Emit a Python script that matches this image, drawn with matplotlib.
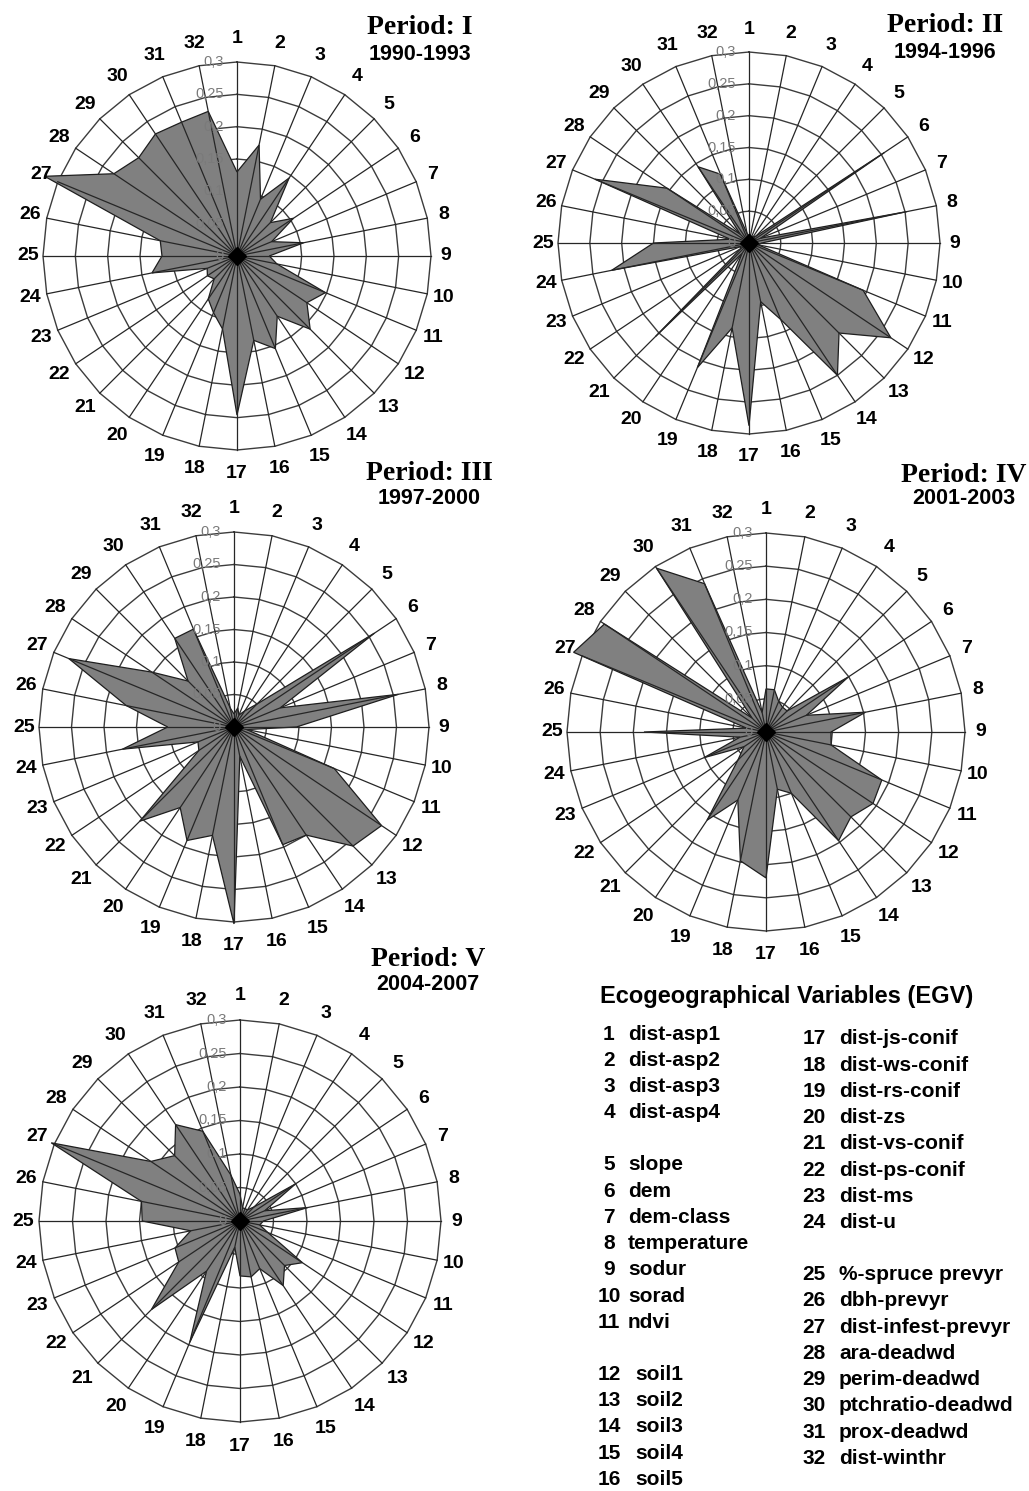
import numpy as np
import matplotlib.pyplot as plt

W, H = 1029, 1491

ring_levels = [0, 0.05, 0.1, 0.15, 0.2, 0.25, 0.3]
ring_labels = ["0", "0,05", "0,1", "0,15", "0,2", "0,25", "0,3"]

periods = ["Period: I", "Period: II", "Period: III", "Period: IV", "Period: V"]
years = ["1990-1993", "1994-1996", "1997-2000", "2001-2003", "2004-2007"]

# ENFA marginality scores for EGV 1..32 in each period
period_1 = [0.13, 0.175, 0.095, 0.145, 0.073, 0.105, 0.058, 0.105,
            0.05, 0.063, 0.148, 0.13, 0.16, 0.112, 0.155, 0.133,
            0.246, 0.115, 0.095, 0.08, 0.05, 0.055, 0.05, 0.134,
            0.116, 0.121, 0.322, 0.229, 0.215, 0.227, 0.224, 0.228]
period_2 = [0.012, 0.01, 0.01, 0.012, 0.015, 0.256, 0.02, 0.253,
            0.02, 0.015, 0.194, 0.268, 0.2, 0.25, 0.13, 0.094,
            0.287, 0.136, 0.212, 0.02, 0.208, 0.015, 0.015, 0.22,
            0.15, 0.03, 0.262, 0.155, 0.02, 0.144, 0.117, 0.015]
period_3 = [0.02, 0.03, 0.02, 0.03, 0.05, 0.26, 0.077, 0.258,
            0.096, 0.02, 0.167, 0.273, 0.259, 0.2, 0.196, 0.046,
            0.303, 0.17, 0.189, 0.149, 0.205, 0.065, 0.06, 0.175,
            0.102, 0.169, 0.275, 0.152, 0.1, 0.164, 0.163, 0.03]
period_4 = [0.065, 0.065, 0.05, 0.045, 0.045, 0.149, 0.066, 0.153,
            0.098, 0.1, 0.189, 0.194, 0.181, 0.197, 0.1, 0.088,
            0.22, 0.198, 0.111, 0.16, 0.06, 0.04, 0.101, 0.04,
            0.184, 0.03, 0.314, 0.293, 0.03, 0.297, 0.242, 0.03]
period_5 = [0.04, 0.02, 0.02, 0.02, 0.03, 0.1, 0.04, 0.103,
            0.035, 0.03, 0.045, 0.112, 0.094, 0.116, 0.077, 0.085,
            0.082, 0.04, 0.196, 0.09, 0.187, 0.11, 0.105, 0.075,
            0.146, 0.15, 0.305, 0.16, 0.138, 0.173, 0.145, 0.07]
scores = [period_1, period_2, period_3, period_4, period_5]

egv_names = ["dist-asp1", "dist-asp2", "dist-asp3", "dist-asp4",
             "slope", "dem", "dem-class", "temperature", "sodur", "sorad", "ndvi",
             "soil1", "soil2", "soil3", "soil4", "soil5",
             "dist-js-conif", "dist-ws-conif", "dist-rs-conif", "dist-zs",
             "dist-vs-conif", "dist-ps-conif", "dist-ms", "dist-u",
             "%-spruce prevyr", "dbh-prevyr", "dist-infest-prevyr", "ara-deadwd",
             "perim-deadwd", "ptchratio-deadwd", "prox-deadwd", "dist-winthr"]

# panel centre / radius in pixels, title centre x and y's
panels = [
    dict(c=(237, 256), r=194, tx=420, ty=(28, 55)),
    dict(c=(749, 243), r=191, tx=945, ty=(25, 53)),
    dict(c=(234, 727), r=195, tx=429, ty=(473, 498)),
    dict(c=(766, 732), r=199, tx=964, ty=(475, 498)),
    dict(c=(240, 1221), r=201, tx=428, ty=(960, 985)),
]

SANS = "Liberation Sans"
SERIF = "Liberation Serif"


def radar(ax, values):
    theta = np.deg2rad(np.arange(32) * 11.25)
    tc = np.append(theta, theta[0])
    ax.set_theta_zero_location("N")
    ax.set_theta_direction(-1)
    ax.set_ylim(0, 0.3)
    ax.axis("off")

    for r in ring_levels[1:]:
        ax.plot(tc, [r] * 33, color="#3c3c3c", lw=1.0, zorder=1, clip_on=False)

    vc = np.append(values, values[0])
    ax.fill(tc, vc, facecolor="#808080", edgecolor="#1e1e1e", lw=0.9,
            zorder=2, clip_on=False)

    for t in theta:
        ax.plot([t, t], [0, 0.3], color="#262626", lw=0.9, zorder=3,
                clip_on=False)
    ax.plot(0, 0, marker="D", ms=9, color="black", zorder=4, clip_on=False)

    for k, t in enumerate(theta):
        rl = 0.3 + 0.023 + 0.013 * abs(np.cos(t))
        ax.text(t, rl, str(k + 1), ha="center", va="center", fontsize=14,
                fontweight="bold", family=SANS, zorder=5)

    for r, lbl in zip(ring_levels, ring_labels):
        ax.annotate(lbl, xy=(0, r), xytext=(-9.5, 0), textcoords="offset points",
                    ha="right", va="center", fontsize=10.5, color="#7a7a7a",
                    family=SANS, zorder=5)


fig = plt.figure(figsize=(W / 100, H / 100), dpi=100)

for p, vals, name, yr in zip(panels, scores, periods, years):
    cx, cy = p["c"]
    R = p["r"]
    ax = fig.add_axes([(cx - R) / W, 1 - (cy + R) / H, 2 * R / W, 2 * R / H],
                      projection="polar")
    radar(ax, vals)
    fig.text(p["tx"] / W, 1 - p["ty"][0] / H, name, ha="center", va="center",
             fontsize=20, fontweight="bold", family=SERIF)
    fig.text(p["tx"] / W, 1 - p["ty"][1] / H, yr, ha="center", va="center",
             fontsize=15.5, fontweight="bold", family=SANS)

# EGV key
fig.text(600 / W, 1 - 997 / H, "Ecogeographical Variables (EGV)",
         ha="left", va="center", fontsize=17, fontweight="bold", family=SANS)

left_rows = [0, 1, 2, 3, 5, 6, 7, 8, 9, 10, 11, 13, 14, 15, 16, 17]
right_rows = [0, 1, 2, 3, 4, 5, 6, 7, 9, 10, 11, 12, 13, 14, 15, 16]
step = 26.2
for i, row in enumerate(left_rows):
    y = 1 - (1034 + row * step) / H
    name_x = 628 if i < 11 else 635
    fig.text(609 / W, y, str(i + 1), ha="center", va="center", fontsize=15,
             fontweight="bold", family=SANS)
    fig.text(name_x / W, y, egv_names[i], ha="left", va="center", fontsize=15,
             fontweight="bold", family=SANS)
for i, row in enumerate(right_rows):
    y = 1 - (1039 + row * step) / H
    fig.text(814 / W, y, str(i + 17), ha="center", va="center", fontsize=15,
             fontweight="bold", family=SANS)
    fig.text(839 / W, y, egv_names[i + 16], ha="left", va="center", fontsize=15,
             fontweight="bold", family=SANS)

fig.savefig("out.png", dpi=100, facecolor="white")
